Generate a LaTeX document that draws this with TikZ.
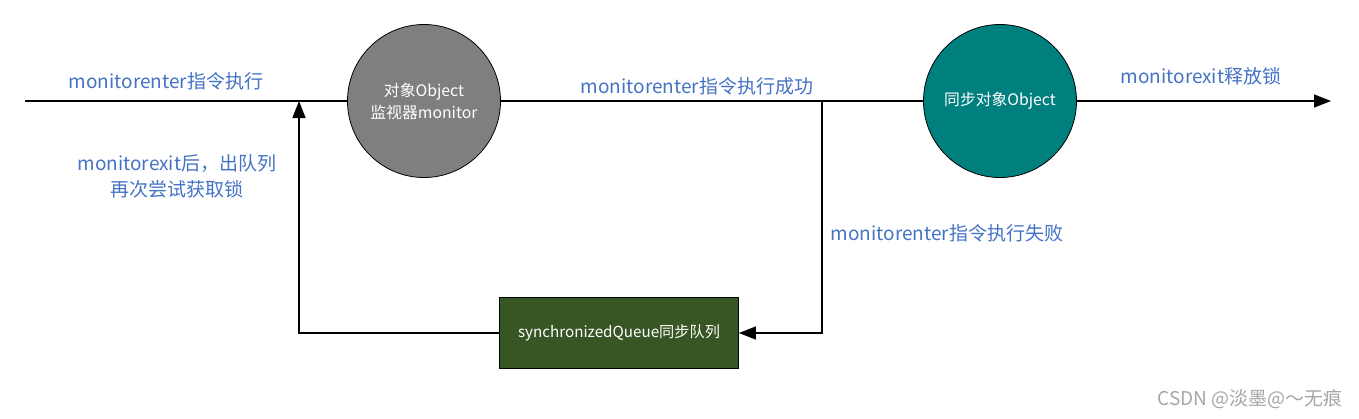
\documentclass[tikz,border=0pt]{standalone}
\usepackage{fontspec}
\setmainfont{Noto Sans CJK SC}
\usetikzlibrary{arrows.meta}
\definecolor{lblblue}{HTML}{4472C4}
\definecolor{cgray}{HTML}{7F7F7F}
\definecolor{cteal}{HTML}{007F7F}
\definecolor{cgreen}{HTML}{375623}
\definecolor{wmgray}{HTML}{A6A6A6}
\tikzset{
  conn/.style={line width=1.4pt, draw=black},
  tip/.style={-{Triangle[length=17pt,width=13pt]}},
  circ/.style={circle, draw=black, line width=0.8pt, minimum size=153pt, inner sep=0pt, text=white, font=\fontsize{15.8}{22}\selectfont, align=center},
  qbox/.style={rectangle, draw=black, line width=0.8pt, fill=cgreen, minimum width=239pt, minimum height=71pt, inner sep=0pt, text=white, font=\fontsize{15.2}{18}\selectfont},
  lbl/.style={text=lblblue, font=\fontsize{19}{26}\selectfont, inner sep=0pt, align=center},
}
\begin{document}
\begin{tikzpicture}[x=1pt,y=-1pt]
\useasboundingbox (0,0) rectangle (1359,418);
\coordinate (start) at (25,101);
\coordinate (end) at (1331,101);
\coordinate (j1) at (299,101);
\coordinate (j2) at (822,101);
\coordinate (c1) at (822,333);
\coordinate (c2) at (299,333);
\node[circ, fill=cgray] (mon) at (424,101) {对象Object\\监视器monitor};
\node[circ, fill=cteal] (obj) at (1000,101) {同步对象Object};
\node[qbox] (queue) at (619,333) {synchronizedQueue同步队列};
\draw[conn] (start) -- (mon.west);
\draw[conn] (mon.east) -- (obj.west);
\draw[conn, tip] (obj.east) -- (end);
\draw[conn, tip] (j2) -- (c1) -- (queue.east);
\draw[conn, tip] (queue.west) -- (c2) -- (j1);
\node[lbl] (l1) at (166,81) {monitorenter指令执行};
\node[lbl] (l2) at (177,176) {monitorexit后，出队列\\再次尝试获取锁};
\node[lbl] (l3) at (697,86) {monitorenter指令执行成功};
\node[lbl] (l4) at (1201,76) {monitorexit释放锁};
\node[lbl] (l5) at (947,233) {monitorenter指令执行失败};
\node[text=wmgray, font=\fontsize{19}{22}\selectfont, inner sep=0pt] (wm) at (1250,399) {CSDN @淡墨@～无痕};
\end{tikzpicture}
\end{document}
